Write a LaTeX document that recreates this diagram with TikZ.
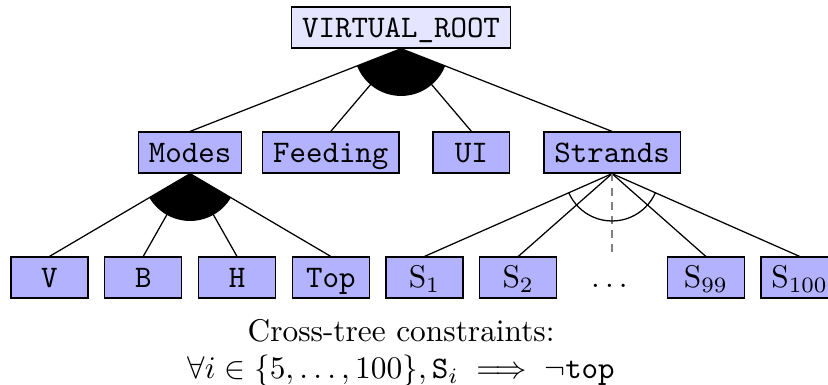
\documentclass[tikz,border=0pt]{standalone}
\usepackage{amsmath}
\begin{document}
\begin{tikzpicture}[thin,
    feat/.style={draw, fill=blue!30, minimum width=24.5pt, text height=6.4pt, text depth=0pt, font=\ttfamily}]
  \useasboundingbox (-0.554,0.308) rectangle (8.718,-4.003);
  \node[feat, fill=blue!10] (root) at (3.9375,0) {VIRTUAL\_ROOT};
  \node[feat] (modes) at (1.575,-1.4) {Modes};
  \node[feat] (feeding) at (3.15,-1.4) {Feeding};
  \node[feat] (ui) at (4.725,-1.4) {UI};
  \node[feat] (strands) at (6.3,-1.4) {Strands};
  \foreach \c in {modes,feeding,ui,strands}
    \draw (root.south) -- (\c.north);
  % modes
  \foreach \n/\t [count=\i from 0] in {v/V, b/B, h/H, top/Top} {
    \node[feat] (\n) at (\i*1.05,-2.8) {\t};
    \draw (modes.south) -- (\n.north);
  }
  % strands
  \foreach \n/\t/\x in {s1/1/4.2, s2/2/5.25, s99/99/7.35, s100/100/8.4} {
    \node[feat] (\n) at (\x,-2.8) {$\mathrm{S}_{\t}$};
    \draw (strands.south) -- (\n.north);
  }
  \node[text height=6.4pt, text depth=0pt] (dots) at (6.3,-2.8) {$\dots$};
  \draw[gray, dash pattern=on 2.5pt off 2pt, shorten >=1.5pt] (strands.south) -- (dots.north);
  % groups
  \begin{scope}
    \clip (root.south) -- (modes.north) -- (strands.north) -- cycle;
    \fill (root.south) circle (0.53);
  \end{scope}
  \begin{scope}
    \clip (modes.south) -- (v.north) -- (top.north) -- cycle;
    \fill (modes.south) circle (0.53);
  \end{scope}
  \begin{scope}
    \clip (strands.south) -- (s1.north) -- (s100.north) -- cycle;
    \draw (strands.south) circle (0.53);
  \end{scope}
  \node[align=center, anchor=north] (ctc) at (3.9375,-3.141)
    {Cross-tree constraints:\\ $\forall i \in \{5,\dots,100\}, \mathtt{S}_i \implies \neg\mathtt{top}$};
\end{tikzpicture}
\end{document}
